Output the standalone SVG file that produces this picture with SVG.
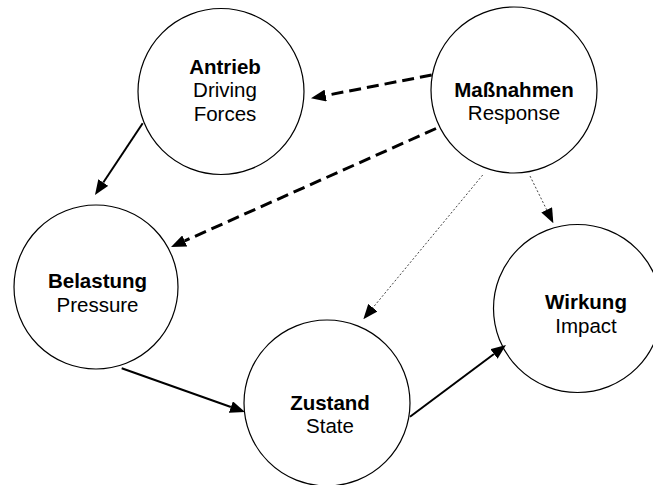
<svg xmlns="http://www.w3.org/2000/svg" width="653" height="485" viewBox="0 0 653 485">
<style>
.node circle{fill:#fff;stroke:#000;stroke-width:1.2}
text{font-family:"Liberation Sans",Arial,sans-serif;font-size:20.5px;fill:#000;text-anchor:middle}
.b{font-weight:bold}
.solid{stroke:#000;stroke-width:2;fill:none}
.dash{stroke:#000;stroke-width:3;fill:none;stroke-dasharray:12 6}
.dot{stroke:#444;stroke-width:1;fill:none;stroke-dasharray:2 2}
</style>
<defs>
<marker id="ah" viewBox="0 0 15 12" refX="0" refY="6" markerWidth="15" markerHeight="12" markerUnits="userSpaceOnUse" orient="auto">
<path d="M0,0 L15,6 L0,12 z" fill="#000"/>
</marker>
</defs>
<rect width="653" height="485" fill="#fff"/>
<g id="antrieb" class="node">
<circle cx="221" cy="91.5" r="83"/>
<text x="225" y="74" class="b">Antrieb</text>
<text x="225" y="97">Driving</text>
<text x="225" y="121">Forces</text>
</g>
<g id="massnahmen" class="node">
<circle cx="514" cy="90" r="83"/>
<text x="514" y="97" class="b">Maßnahmen</text>
<text x="514" y="120">Response</text>
</g>
<g id="belastung" class="node">
<circle cx="96" cy="287" r="82"/>
<text x="97.5" y="288" class="b">Belastung</text>
<text x="97.5" y="311.5">Pressure</text>
</g>
<g id="wirkung" class="node">
<circle cx="577.5" cy="308.5" r="84"/>
<text x="586" y="309" class="b">Wirkung</text>
<text x="586" y="332.5">Impact</text>
</g>
<g id="zustand" class="node">
<circle cx="327" cy="403" r="83"/>
<text x="330" y="410" class="b">Zustand</text>
<text x="330" y="433">State</text>
</g>
<g id="connectors">
<line class="solid" x1="142.7" y1="123.3" x2="103.3" y2="182.5" marker-end="url(#ah)"/>
<line class="dash" x1="431.7" y1="75" x2="325.7" y2="95.5" marker-end="url(#ah)"/>
<line class="dash" x1="436" y1="128.5" x2="184.7" y2="240.9" marker-end="url(#ah)"/>
<line class="dot" x1="482.7" y1="175" x2="372.9" y2="307.7" marker-end="url(#ah)"/>
<line class="dot" x1="530" y1="176" x2="546.7" y2="209.8" marker-end="url(#ah)"/>
<line class="solid" x1="121.7" y1="368.3" x2="230.9" y2="407" marker-end="url(#ah)"/>
<line class="solid" x1="410" y1="416.7" x2="494" y2="354" marker-end="url(#ah)"/>
</g>
</svg>
